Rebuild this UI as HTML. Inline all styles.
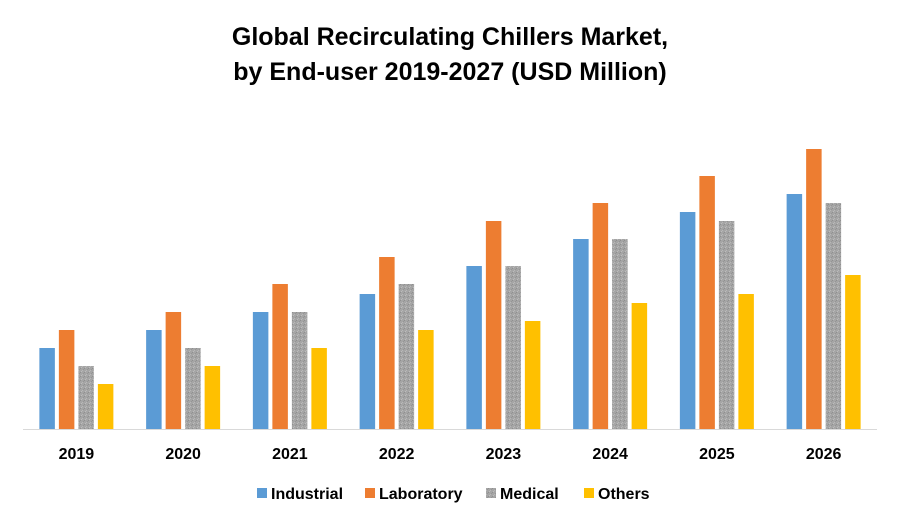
<!DOCTYPE html>
<html><head><meta charset="utf-8"><style>
body{margin:0;background:#fff;font-family:"Liberation Sans",Arial,sans-serif}
</style></head><body>
<svg width="900" height="525" xmlns="http://www.w3.org/2000/svg">
<defs>
<pattern id="grain" width="4" height="4" patternUnits="userSpaceOnUse">
<rect width="4" height="4" fill="#a5a5a5"/><rect x="0" y="0" width="1" height="1" fill="#8f8f8f"/><rect x="2" y="2" width="1" height="1" fill="#b8b8b8"/><rect x="3" y="1" width="1" height="1" fill="#959595"/><rect x="1" y="3" width="1" height="1" fill="#bdbdbd"/>
</pattern>
</defs>
<text x="450" y="45" text-anchor="middle" font-size="25" font-weight="bold" fill="#000">Global Recirculating Chillers Market,</text>
<text x="450" y="80" text-anchor="middle" font-size="25" font-weight="bold" fill="#000">by End-user 2019-2027 (USD Million)</text>
<line x1="23" y1="429.5" x2="877" y2="429.5" stroke="#d9d9d9" stroke-width="1"/>
<g id="bars"></g>
<g id="xlabels"></g>
<g id="legend"></g>
</svg>
<script>
const categories=["2019","2020","2021","2022","2023","2024","2025","2026"];
const seriesNames=["Industrial","Laboratory","Medical","Others"];
const industrial=[81,99,117,135,163,190,217,235];
const laboratory=[99,117,145,172,208,226,253,280];
const medical=[63,81,117,145,163,190,208,226];
const others=[45,63,81,99,108,126,135,154];
const series=[industrial,laboratory,medical,others];
const colors=["#5b9bd5","#ed7d31","url(#grain)","#ffc000"];
const ns="http://www.w3.org/2000/svg";
const x0=23,x1=877,yBase=429,yMax=300,pxPerUnit=300/yMax;
const bw=(x1-x0)/categories.length;
function xCenter(i){return x0+bw*(i+0.5);}
function yPos(v){return yBase-v*pxPerUnit;}
const barW=15.5,step=19.5;
const gBars=document.getElementById('bars');
const gX=document.getElementById('xlabels');
categories.forEach((c,i)=>{
  series.forEach((s,j)=>{
    const r=document.createElementNS(ns,'rect');
    const x=xCenter(i)+(j-1.5)*step-barW/2;
    r.setAttribute('x',x);r.setAttribute('y',yPos(s[j===j?i:i]));
    r.setAttribute('width',barW);r.setAttribute('height',yBase-yPos(s[i]));
    r.setAttribute('fill',colors[j]);
    
    
    gBars.appendChild(r);
  });
  const t=document.createElementNS(ns,'text');
  t.setAttribute('x',xCenter(i));t.setAttribute('y',459);
  t.setAttribute('text-anchor','middle');t.setAttribute('font-size','16');t.setAttribute('font-weight','bold');
  t.textContent=c;
  
  
  gX.appendChild(t);
});
const gL=document.getElementById('legend');
const legX=[257,365,486,584];
seriesNames.forEach((n,j)=>{
  const g=document.createElementNS(ns,'g');
  
  
  const r=document.createElementNS(ns,'rect');
  r.setAttribute('x',legX[j]);r.setAttribute('y',488);r.setAttribute('width',10);r.setAttribute('height',10);
  r.setAttribute('fill',colors[j]);
  g.appendChild(r);
  const t=document.createElementNS(ns,'text');
  t.setAttribute('x',legX[j]+14);t.setAttribute('y',499);t.setAttribute('font-size','16');t.setAttribute('font-weight','bold');
  t.textContent=n;
  g.appendChild(t);
  gL.appendChild(g);
});
</script>
</body></html>
